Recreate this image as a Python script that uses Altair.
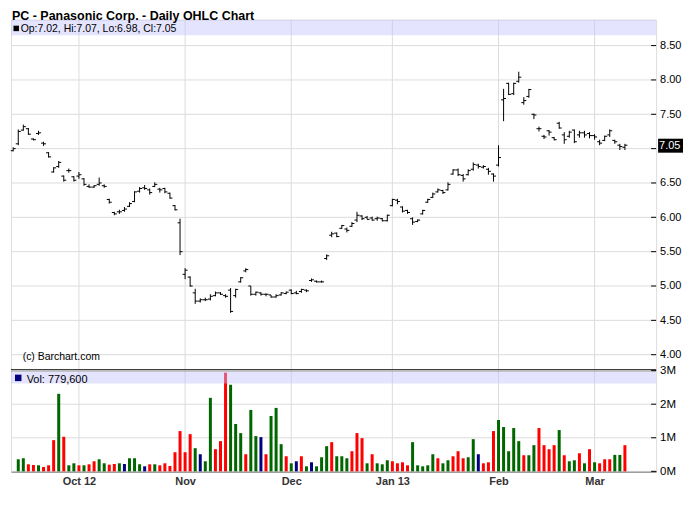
import altair as alt
import pandas as pd

TITLE = "PC - Panasonic Corp. - Daily OHLC Chart"
WATERMARK = "(c) Barchart.com"

# Daily OHLC, first bar = index -1 (Sep 12, 2012) ... last bar index 120 (Mar 11, 2013)
opens = [6.97, 7.07, 7.27, 7.29, 7.14, 7.22, 7.08, 6.94, 6.66, 6.74,
         6.60, 6.68, 6.59, 6.60, 6.56, 6.45, 6.44, 6.48, 6.46, 6.26,
         6.07, 6.08, 6.10, 6.16, 6.23, 6.38, 6.43, 6.40, 6.45, 6.41,
         6.42, 6.35, 6.17, 5.92, 5.17, 5.13, 4.90, 4.78, 4.80, 4.81,
         4.86, 4.90, 4.86, 4.94, 4.86, 5.06, 5.22, 5.00, 4.88, 4.90,
         4.88, 4.87, 4.84, 4.87, 4.89, 4.94, 4.90, 4.92, 4.94, 5.08,
         5.07, 5.06, 5.40, 5.74, 5.77, 5.84, 5.83, 5.87, 5.96, 6.02,
         6.00, 5.99, 5.98, 5.98, 5.95, 6.17, 6.25, 6.15, 6.10, 5.98,
         5.94, 6.05, 6.22, 6.29, 6.37, 6.39, 6.40, 6.63, 6.69, 6.61,
         6.62, 6.70, 6.76, 6.73, 6.70, 6.63, 6.76, 7.71, 7.95, 7.80,
         7.98, 7.67, 7.76, 7.50, 7.29, 7.18, 7.26, 7.16, 7.37, 7.20,
         7.18, 7.27, 7.20, 7.23, 7.22, 7.19, 7.10, 7.12, 7.20, 7.12,
         7.05, 7.02]
highs = [7.02, 7.28, 7.35, 7.30, 7.15, 7.26, 7.10, 6.95, 6.73, 6.82,
         6.61, 6.71, 6.60, 6.66, 6.57, 6.48, 6.47, 6.58, 6.48, 6.27,
         6.08, 6.11, 6.15, 6.22, 6.38, 6.44, 6.47, 6.42, 6.51, 6.43,
         6.43, 6.36, 6.18, 5.98, 5.26, 5.14, 4.96, 4.82, 4.83, 4.88,
         4.92, 4.91, 4.88, 4.97, 4.96, 5.13, 5.26, 5.00, 4.92, 4.91,
         4.89, 4.87, 4.88, 4.91, 4.92, 4.95, 4.93, 4.96, 4.95, 5.11,
         5.08, 5.08, 5.46, 5.79, 5.78, 5.89, 5.85, 5.93, 6.08, 6.03,
         6.02, 6.01, 6.01, 5.99, 6.04, 6.27, 6.27, 6.16, 6.11, 6.00,
         5.97, 6.11, 6.27, 6.36, 6.42, 6.40, 6.51, 6.70, 6.71, 6.63,
         6.70, 6.80, 6.78, 6.76, 6.72, 6.64, 7.05, 7.87, 7.96, 7.96,
         8.12, 7.75, 7.87, 7.51, 7.32, 7.20, 7.27, 7.17, 7.39, 7.24,
         7.26, 7.28, 7.26, 7.26, 7.24, 7.21, 7.13, 7.19, 7.28, 7.13,
         7.07, 7.07]
lows = [6.96, 7.05, 7.26, 7.20, 7.12, 7.20, 7.04, 6.87, 6.65, 6.72,
        6.52, 6.65, 6.52, 6.56, 6.46, 6.43, 6.43, 6.46, 6.43, 6.20,
        6.03, 6.05, 6.08, 6.15, 6.22, 6.36, 6.40, 6.33, 6.44, 6.36,
        6.35, 6.27, 6.10, 5.45, 5.10, 4.99, 4.74, 4.76, 4.78, 4.79,
        4.85, 4.87, 4.83, 4.61, 4.83, 5.05, 5.20, 4.86, 4.86, 4.86,
        4.85, 4.83, 4.83, 4.86, 4.88, 4.88, 4.88, 4.90, 4.91, 5.06,
        5.05, 5.05, 5.38, 5.71, 5.71, 5.83, 5.78, 5.86, 5.93, 5.96,
        5.97, 5.95, 5.95, 5.94, 5.94, 6.16, 6.19, 6.07, 6.05, 5.89,
        5.93, 6.04, 6.21, 6.28, 6.36, 6.34, 6.39, 6.62, 6.60, 6.52,
        6.61, 6.68, 6.71, 6.71, 6.62, 6.52, 6.74, 7.40, 7.78, 7.78,
        7.96, 7.64, 7.74, 7.43, 7.25, 7.14, 7.19, 7.12, 7.29, 7.07,
        7.16, 7.08, 7.16, 7.16, 7.15, 7.13, 7.05, 7.11, 7.17, 7.07,
        6.98, 6.98]
closes = [7.00, 7.25, 7.32, 7.21, 7.13, 7.23, 7.07, 6.88, 6.72, 6.80,
          6.54, 6.68, 6.54, 6.62, 6.48, 6.44, 6.46, 6.50, 6.45, 6.22,
          6.05, 6.08, 6.12, 6.20, 6.37, 6.42, 6.42, 6.36, 6.48, 6.40,
          6.37, 6.28, 6.11, 5.50, 5.23, 5.00, 4.78, 4.80, 4.80, 4.85,
          4.90, 4.88, 4.85, 4.63, 4.95, 5.12, 5.24, 4.88, 4.91, 4.88,
          4.88, 4.84, 4.86, 4.90, 4.91, 4.89, 4.89, 4.95, 4.93, 5.09,
          5.06, 5.06, 5.44, 5.76, 5.72, 5.88, 5.81, 5.91, 6.03, 5.98,
          5.97, 5.96, 5.99, 5.95, 6.03, 6.26, 6.23, 6.09, 6.07, 5.93,
          5.96, 6.10, 6.26, 6.34, 6.40, 6.36, 6.48, 6.69, 6.62, 6.56,
          6.68, 6.77, 6.74, 6.74, 6.67, 6.60, 6.87, 7.73, 7.79, 7.95,
          8.04, 7.70, 7.86, 7.49, 7.29, 7.17, 7.24, 7.13, 7.30, 7.13,
          7.24, 7.10, 7.23, 7.20, 7.19, 7.17, 7.08, 7.18, 7.26, 7.10,
          7.03, 7.05]
FIRST_INDEX = -1

# Daily volume in millions of shares, from bar index 0 (Sep 13, 2012)
volumes_m = [0.36, 0.39, 0.21, 0.19, 0.18, 0.13, 0.18, 0.93, 2.31, 1.03,
             0.18, 0.24, 0.18, 0.18, 0.21, 0.30, 0.36, 0.24, 0.20, 0.22,
             0.24, 0.22, 0.39, 0.39, 0.21, 0.15, 0.21, 0.21, 0.18, 0.24,
             0.16, 0.57, 1.20, 0.57, 1.11, 0.69, 0.51, 0.30, 2.19, 0.66,
             0.90, 2.94, 2.58, 1.41, 1.14, 0.51, 1.83, 1.05, 1.02, 0.51,
             1.65, 1.89, 0.81, 0.45, 0.24, 0.30, 0.45, 0.15, 0.27, 0.15,
             0.42, 0.75, 0.87, 0.45, 0.45, 0.39, 0.60, 1.14, 0.99, 0.24,
             0.51, 0.24, 0.21, 0.33, 0.30, 0.24, 0.27, 0.18, 0.87, 0.18,
             0.15, 0.18, 0.51, 0.39, 0.24, 0.33, 0.45, 0.60, 0.39, 0.42,
             0.96, 0.51, 0.24, 0.27, 1.20, 1.53, 1.32, 0.60, 1.29, 0.90,
             0.48, 0.48, 0.78, 1.29, 0.78, 0.66, 0.78, 1.23, 0.48, 0.30,
             0.33, 0.54, 0.24, 0.66, 0.27, 0.24, 0.36, 0.36, 0.49, 0.49,
             0.7796]
# u = up (green), d = down (red), n = unchanged (navy)
vol_dirs = list("uudduddduduududduuddunuuundudddddddunuuddduuuduundu"
                "uudundunuuuduuuddduduuudddduuuuuduuddduunddduuuuuduu"
                "dddduduudududdduuddn")

month_positions = [12, 33, 54, 74, 95, 114]
month_labels = ["Oct 12", "Nov", "Dec", "Jan 13", "Feb", "Mar"]
price_ticks = [4.0, 4.5, 5.0, 5.5, 6.0, 6.5, 7.0, 7.5, 8.0, 8.5]
vol_ticks_m = [0, 1, 2, 3]

FONT = "Liberation Sans"
W, H = 647, 453
GRID = "#dcdcdc"

n = len(closes)
price_df = pd.DataFrame({
    "k": list(range(FIRST_INDEX, FIRST_INDEX + n)),
    "o": opens, "h": highs, "l": lows, "c": closes,
})
vol_df = pd.DataFrame({
    "k": list(range(0, len(volumes_m))),
    "v": volumes_m,
    "d": vol_dirs[: len(volumes_m)],
})
last_df = price_df.iloc[[-1]].reset_index(drop=True)
# the label nearest the last price is hidden under the last-price box
pt_df = pd.DataFrame({"p": price_ticks,
                      "lbl": ["" if abs(p - closes[-1]) < 0.1 else "{:.2f}".format(p)
                              for p in price_ticks]})
vt_df = pd.DataFrame({"v": vol_ticks_m, "lbl": ["{}M".format(v) for v in vol_ticks_m]})
mt_df = pd.DataFrame({"k": month_positions, "m": month_labels})
one = pd.DataFrame({"t": [0]})

header_text = "Op:{:.2f}, Hi:{:.2f}, Lo:{:.2f}, Cl:{:.2f}".format(
    opens[-1], highs[-1], lows[-1], closes[-1])
vol_text = "Vol: {:,}".format(int(round(volumes_m[-1] * 1e6)))

label_expr = " : ".join(
    "datum.value == {} ? '{}'".format(p, l) for p, l in zip(month_positions, month_labels)
) + " : ''"

xs = alt.Scale(domain=[-1.44, 126.17], nice=False, zero=False, padding=0)
ps = alt.Scale(domain=[4.0, 8.5], range=[336, 26], nice=False, zero=False)
vs = alt.Scale(domain=[0, 3], range=[453, 352], nice=False, zero=False)

x_axis = alt.Axis(values=month_positions, labelExpr=label_expr, grid=False,
                  ticks=False, tickSize=0, domainColor="black",
                  labelFont=FONT, labelFontWeight="bold", labelFontSize=11,
                  labelColor="#333333", labelPadding=4, title=None)

# ---------- price panel ----------
x_grid = alt.Chart(mt_df).mark_rule(color=GRID, strokeWidth=1).encode(
    x=alt.X("k:Q", scale=xs, axis=x_axis), y=alt.value(0), y2=alt.value(H))
p_grid = alt.Chart(pt_df).mark_rule(color=GRID, strokeWidth=1).encode(
    x=alt.value(0), x2=alt.value(W), y=alt.Y("p:Q", scale=ps, axis=None))
base = alt.Chart(price_df)
hl = base.mark_rule(color="black", strokeWidth=1).encode(
    x=alt.X("k:Q", scale=xs),
    y=alt.Y("l:Q", scale=ps, axis=None),
    y2="h:Q",
)
open_tick = base.mark_rule(color="black", strokeWidth=1, xOffset=-2.5, x2Offset=0).encode(
    x=alt.X("k:Q", scale=xs), x2="k:Q", y=alt.Y("o:Q", scale=ps, axis=None))
close_tick = base.mark_rule(color="black", strokeWidth=1, xOffset=0, x2Offset=2.5).encode(
    x=alt.X("k:Q", scale=xs), x2="k:Q", y=alt.Y("c:Q", scale=ps, axis=None))

p_inner_ticks = alt.Chart(pt_df).mark_rule(color="black").encode(
    x=alt.value(W - 5), x2=alt.value(W), y=alt.Y("p:Q", scale=ps, axis=None))
p_labels = alt.Chart(pt_df).mark_text(align="left", baseline="middle", font=FONT,
                                      fontSize=11, color="black", dy=0.5).encode(
    x=alt.value(W + 4), y=alt.Y("p:Q", scale=ps, axis=None), text="lbl:N")

p_band = alt.Chart(one).mark_rect(color="#c4c4ff", opacity=0.45).encode(
    x=alt.value(0), x2=alt.value(W), y=alt.value(0), y2=alt.value(15.5))
p_square = alt.Chart(one).mark_rect(color="black").encode(
    x=alt.value(2.5), x2=alt.value(8), y=alt.value(6), y2=alt.value(11.5))
p_text = alt.Chart(one).mark_text(align="left", baseline="alphabetic", font=FONT,
                                  fontSize=10.5, color="black").encode(
    x=alt.value(9.7), y=alt.value(12.8), text=alt.value(header_text))
title_text = alt.Chart(one).mark_text(align="left", baseline="alphabetic", font=FONT,
                                      fontSize=12.5, fontWeight="bold", color="black").encode(
    x=alt.value(1), y=alt.value(0.4), text=alt.value(TITLE))
wm_text = alt.Chart(one).mark_text(align="left", baseline="alphabetic", font=FONT,
                                   fontSize=10.5, color="black").encode(
    x=alt.value(11.7), y=alt.value(341.5), text=alt.value(WATERMARK))

last_box = alt.Chart(last_df).mark_rect(color="black", yOffset=-6.5, y2Offset=7.5).encode(
    x=alt.value(W + 2), x2=alt.value(W + 27),
    y=alt.Y("c:Q", scale=ps, axis=None), y2="c:Q")
last_lbl = alt.Chart(last_df).mark_text(align="left", baseline="middle", font=FONT,
                                        fontSize=11, color="white", dy=1).encode(
    x=alt.value(W + 3), y=alt.Y("c:Q", scale=ps, axis=None),
    text=alt.Text("c:Q", format=".2f"))

sep = alt.Chart(one).mark_rule(color="black", strokeWidth=2).encode(
    x=alt.value(0), x2=alt.value(W), y=alt.value(351.5))

price_layer = alt.layer(x_grid, p_grid, hl, open_tick, close_tick, p_inner_ticks, p_labels,
                        p_band, p_square, p_text, title_text, wm_text, sep,
                        last_box, last_lbl)

# ---------- volume panel ----------
v_grid = alt.Chart(vt_df).mark_rule(color=GRID, strokeWidth=1).encode(
    x=alt.value(0), x2=alt.value(W), y=alt.Y("v:Q", scale=vs, axis=None))
vbars = alt.Chart(vol_df).mark_bar(size=3).encode(
    x=alt.X("k:Q", scale=xs),
    y=alt.Y("v:Q", scale=vs, axis=None),
    color=alt.Color("d:N", scale=alt.Scale(domain=["u", "d", "n"],
                                           range=["#006600", "#ff0000", "#000080"]),
                    legend=None),
)
v_inner_ticks = alt.Chart(vt_df).mark_rule(color="black").encode(
    x=alt.value(W - 5), x2=alt.value(W), y=alt.Y("v:Q", scale=vs, axis=None))
v_labels = alt.Chart(vt_df).mark_text(align="left", baseline="middle", font=FONT,
                                      fontSize=11.5, color="black", dy=0.5).encode(
    x=alt.value(W + 4), y=alt.Y("v:Q", scale=vs, axis=None), text="lbl:N")
v_band = alt.Chart(one).mark_rect(color="#c4c4ff", opacity=0.45).encode(
    x=alt.value(0), x2=alt.value(W), y=alt.value(353), y2=alt.value(365))
v_square = alt.Chart(one).mark_rect(color="#000080").encode(
    x=alt.value(4), x2=alt.value(10.5), y=alt.value(356), y2=alt.value(362.5))
v_text = alt.Chart(one).mark_text(align="left", baseline="alphabetic", font=FONT,
                                  fontSize=11, color="black").encode(
    x=alt.value(15.7), y=alt.value(364), text=alt.value(vol_text))

vol_layer = alt.layer(v_grid, vbars, v_inner_ticks, v_labels, v_band, v_square, v_text)

chart = alt.layer(price_layer, vol_layer).resolve_scale(y="independent").properties(
    width=W, height=H,
    autosize=alt.AutoSizeParams(type="none"),
    padding={"left": 3, "top": 11, "right": 36, "bottom": 22},
).configure_view(stroke="black", strokeWidth=1).configure(font=FONT)

chart.save("out.html", embed_options={"renderer": "svg", "actions": False})
